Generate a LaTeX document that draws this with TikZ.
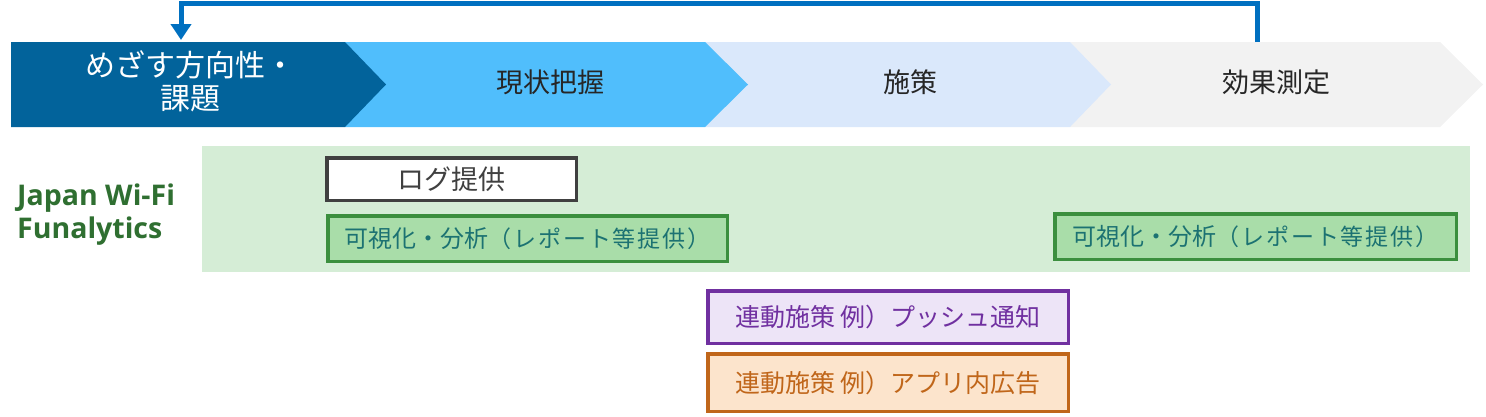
\documentclass[tikz,border=0pt]{standalone}
\usepackage{fontspec}
\newfontfamily\cjk{Noto Sans CJK JP}
\newfontfamily\cjkwide[LetterSpace=8]{Noto Sans CJK JP}
\newfontfamily\lat{Open Sans}
\usetikzlibrary{arrows.meta}
\definecolor{cdark}{HTML}{02639B}
\definecolor{clight}{HTML}{50BEFC}
\definecolor{cpale}{HTML}{DAE8FB}
\definecolor{cgray}{HTML}{F2F2F2}
\definecolor{carrow}{HTML}{0070C0}
\definecolor{cband}{HTML}{D5EDD6}
\definecolor{cjw}{HTML}{2F6F31}
\definecolor{gbord}{HTML}{3B8F3E}
\definecolor{gfill}{HTML}{A9DDA9}
\definecolor{gtext}{HTML}{1C7272}
\definecolor{pbord}{HTML}{7030A0}
\definecolor{pfill}{HTML}{EDE4F7}
\definecolor{obord}{HTML}{C0661A}
\definecolor{ofill}{HTML}{FCE4CC}
\definecolor{dgray}{HTML}{404040}
\definecolor{ctext}{HTML}{262626}
\newcommand{\paren}[1]{{\cjkwide\fontsize{23}{26}\selectfont #1}}
\tikzset{
  stagetext/.style={font=\cjk\fontsize{27}{32}\selectfont, text=ctext, inner sep=0pt},
  boxbase/.style={line width=3.5pt, inner sep=0pt, font=\cjk\fontsize{25}{30}\selectfont},
  logbox/.style={boxbase, draw=dgray, fill=white, text=dgray},
  visbox/.style={boxbase, draw=gbord, fill=gfill, text=gtext, font=\cjk\fontsize{24}{28}\selectfont},
  pushbox/.style={boxbase, draw=pbord, fill=pfill, text=pbord},
  appbox/.style={boxbase, draw=obord, fill=ofill, text=obord},
  loop/.style={draw=carrow, line width=5pt, line join=miter, -{Triangle[width=20pt,length=16pt]}}
}
\begin{document}
\begin{tikzpicture}[x=1pt,y=-1pt]
\useasboundingbox (0,0) rectangle (1486,416);
% chevrons
\fill[cgray] (1070,42) -- (1440,42) -- (1483,84.5) -- (1440,127) -- (1070,127) -- cycle;
\fill[cpale] (705,42) -- (1070,42) -- (1111,84.5) -- (1070,127) -- (705,127) -- cycle;
\fill[clight] (345,42) -- (705,42) -- (748,84.5) -- (705,127) -- (345,127) -- cycle;
\fill[cdark] (11,42) -- (345,42) -- (386,84.5) -- (345,127) -- (11,127) -- cycle;
\node[stagetext, text=white, align=center, font=\cjk\fontsize{30}{33}\selectfont] (s1) at (190,81) {めざす方向性・\\課題};
\node[stagetext] (s2) at (550,82) {現状把握};
\node[stagetext] (s3) at (910,82) {施策};
\node[stagetext] (s4) at (1276,82) {効果測定};
\coordinate (p4top) at (1257,42);
\coordinate (p1top) at (181,40);
\draw[loop] (p4top) -- (1257,3) -| (p1top);
% band
\fill[cband] (202,146) rectangle (1470,272);
\node[text=cjw, font=\lat\bfseries\fontsize{28.5}{33}\selectfont, align=left, anchor=west, inner sep=0pt] (jw) at (17,215) {Japan Wi-Fi\\Funalytics};
% boxes
\node[logbox, minimum width=249.5pt, minimum height=42.5pt, font=\cjk\fontsize{27}{30}\selectfont] (log) at (451.5,179) {ログ提供};
\node[visbox, minimum width=399.5pt, minimum height=45.5pt] (vis1) at (527.5,238.5) {可視化・分析\paren{（レポート等提供）}};
\node[visbox, minimum width=401.5pt, minimum height=45.5pt] (vis2) at (1255.5,236.5) {可視化・分析\paren{（レポート等提供）}};
\node[pushbox, minimum width=360.5pt, minimum height=52.5pt] (push) at (888,317) {連動施策 例）プッシュ通知};
\node[appbox, minimum width=360.5pt, minimum height=57.5pt] (app) at (888,382.5) {連動施策 例）アプリ内広告};
\end{tikzpicture}
\end{document}
